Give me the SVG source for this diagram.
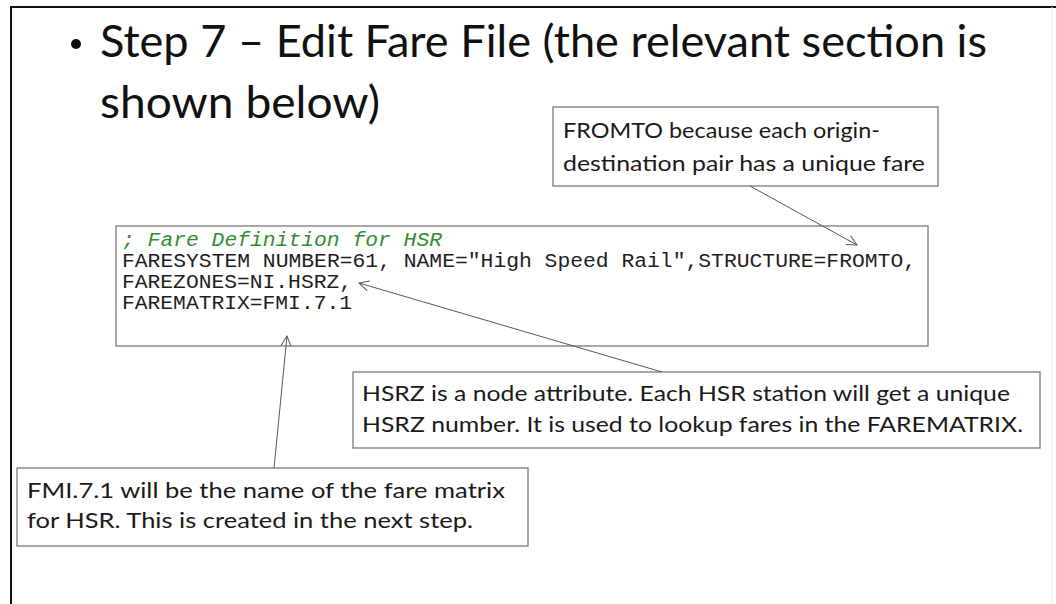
<svg xmlns="http://www.w3.org/2000/svg" width="1056" height="604" viewBox="0 0 1056 604">
  <style>
    .title { font-family: Lato, "Open Sans", sans-serif; font-size: 44px; fill: #111; }
    .note { font-family: Lato, "Open Sans", sans-serif; font-size: 22px; fill: #1a1a1a; }
    .box { fill: #fff; stroke: #8a8a8a; stroke-width: 1.5; }
    .code { font-family: "Liberation Mono", "Courier New", monospace; font-size: 20px; fill: #1e1e1e; }
    .comment { font-family: "Liberation Mono", "Courier New", monospace; font-size: 20px; font-style: italic; fill: #2f8f2f; }
    .conn { stroke: #555; stroke-width: 1; fill: none; marker-end: url(#open); }
  </style>
  <defs>
    <marker id="open" viewBox="0 0 12 12" refX="11" refY="6" markerWidth="12" markerHeight="12" markerUnits="userSpaceOnUse" orient="auto">
      <path d="M1,1 L11,6 L1,11" fill="none" stroke="#555" stroke-width="1"/>
    </marker>
  </defs>

  <rect x="0" y="0" width="1056" height="604" fill="#fff"/>
  <!-- slide frame -->
  <path d="M11,604 V7 H1056" fill="none" stroke="#111" stroke-width="2"/>
  <line x1="1052" y1="7" x2="1052" y2="604" stroke="#eee" stroke-width="1"/>

  <!-- title -->
  <g id="title">
    <circle cx="76" cy="44" r="5" fill="#111"/>
    <text class="title" x="100" y="57" textLength="887" lengthAdjust="spacingAndGlyphs">Step 7 – Edit Fare File (the relevant section is</text>
    <text class="title" x="100" y="118" textLength="280" lengthAdjust="spacingAndGlyphs">shown below)</text>
  </g>

  <!-- code excerpt -->
  <g id="code">
    <rect class="box" x="116" y="226" width="812" height="120"/>
    <text class="comment" x="122" y="246" textLength="320" lengthAdjust="spacingAndGlyphs">; Fare Definition for HSR</text>
    <text class="code" x="122" y="267" textLength="794" lengthAdjust="spacingAndGlyphs">FARESYSTEM NUMBER=61, NAME="High Speed Rail",STRUCTURE=FROMTO,</text>
    <text class="code" x="122" y="288" textLength="230" lengthAdjust="spacingAndGlyphs">FAREZONES=NI.HSRZ,</text>
    <text class="code" x="122" y="309" textLength="230" lengthAdjust="spacingAndGlyphs">FAREMATRIX=FMI.7.1</text>
  </g>

  <g id="note-fromto">
    <rect class="box" x="553" y="107" width="385" height="79"/>
    <text class="note" x="563" y="138" textLength="317" lengthAdjust="spacingAndGlyphs">FROMTO because each origin-</text>
    <text class="note" x="563" y="171" textLength="362" lengthAdjust="spacingAndGlyphs">destination pair has a unique fare</text>
  </g>

  <g id="note-hsrz">
    <rect class="box" x="353" y="372" width="687" height="76"/>
    <text class="note" x="362" y="401" textLength="648" lengthAdjust="spacingAndGlyphs">HSRZ is a node attribute. Each HSR station will get a unique</text>
    <text class="note" x="362" y="432" textLength="661" lengthAdjust="spacingAndGlyphs">HSRZ number. It is used to lookup fares in the FAREMATRIX.</text>
  </g>

  <g id="note-fmi">
    <rect class="box" x="17" y="468" width="511" height="78"/>
    <text class="note" x="27" y="498" textLength="478" lengthAdjust="spacingAndGlyphs">FMI.7.1 will be the name of the fare matrix</text>
    <text class="note" x="27" y="528" textLength="446" lengthAdjust="spacingAndGlyphs">for HSR. This is created in the next step.</text>
  </g>

  <!-- connectors -->
  <g id="connectors">
    <line class="conn" x1="750" y1="186" x2="857" y2="245"/>
    <line class="conn" x1="662" y1="372" x2="359" y2="283"/>
    <line class="conn" x1="274" y1="468" x2="287" y2="336"/>
  </g>
</svg>
